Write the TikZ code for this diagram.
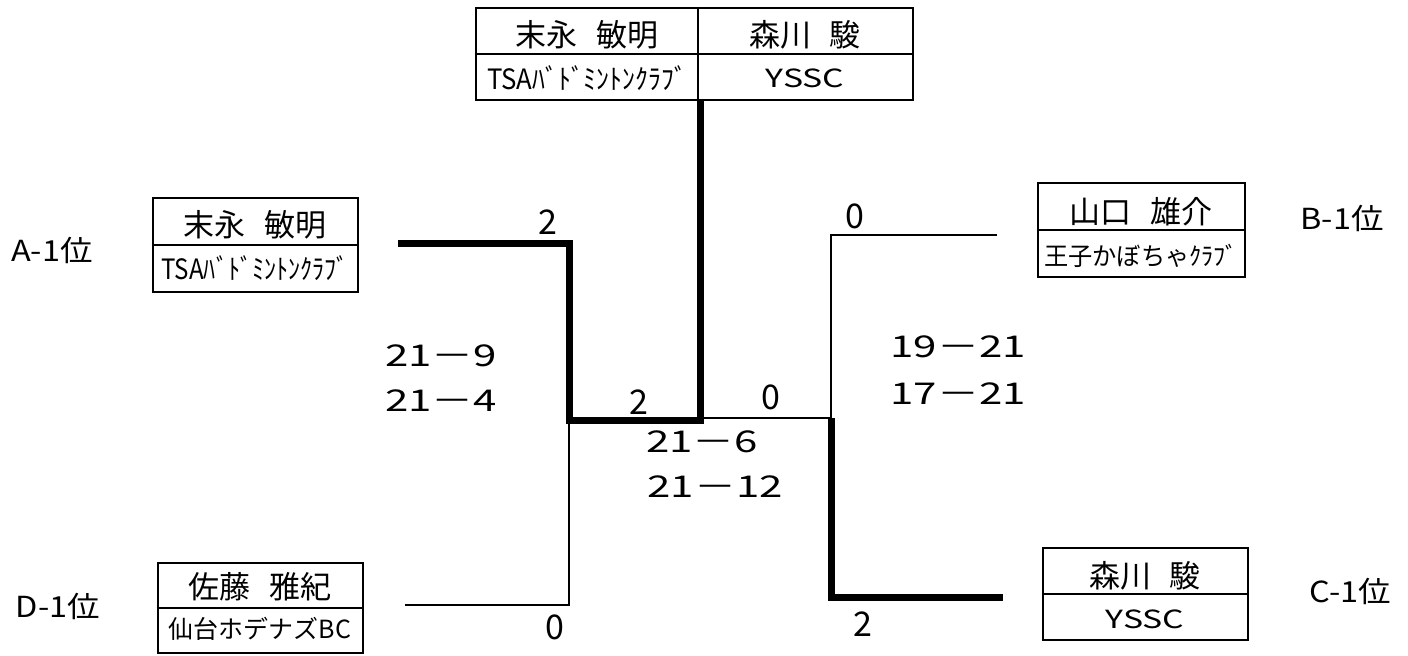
\documentclass[tikz,border=0pt]{standalone}
\usepackage{fontspec}
\setmainfont{Noto Sans CJK JP}
\usetikzlibrary{calc}
\newcommand{\nsp}{\hspace{0.6em}}
\begin{document}
\begin{tikzpicture}[x=0.5pt,y=-0.5pt,
  pbox/.style={draw, line width=1.4pt, inner sep=0pt, minimum width=102.5pt},
  divline/.style={line width=0.6pt},
  win/.style={line width=3.5pt, line join=miter},
  lose/.style={line width=1.3pt, line join=miter},
  nm/.style={font=\fontsize{15.5}{17}\selectfont, inner sep=0pt},
  club/.style={font=\fontsize{12.5}{14}\selectfont, inner sep=0pt},
  tsa/.style={font=\fontsize{14}{16}\selectfont, inner sep=0pt},
  sc/.style={font=\fontsize{15}{18}\selectfont, inner sep=0pt},
  rs/.style={font=\fontsize{17}{19}\selectfont, inner sep=0pt},
  rk/.style={font=\fontsize{14.5}{16}\selectfont, inner sep=0pt}]
\useasboundingbox (0,0) rectangle (1408,655);
\fill[white] (0,0) rectangle (1408,655);

% boxes
\node[pbox, minimum width=218.5pt, minimum height=46pt] (T) at (694.5,54) {};
\node[pbox, minimum height=47pt] (A) at (255.5,245) {};
\node[pbox, minimum height=45pt] (D) at (260.5,608) {};
\node[pbox, minimum width=103.5pt, minimum height=47pt] (B) at (1141.5,230) {};
\node[pbox, minimum height=46pt] (C) at (1145.5,594) {};

% dividers
\coordinate (Tdiv) at (698,54);
\draw[divline] (T.west) -- (T.east);
\draw[line width=1.4pt] (Tdiv |- T.north) -- (Tdiv |- T.south);
\draw[divline] (A.west) -- (A.east);
\draw[divline] (D.west) -- (D.east);
\draw[divline] (B.west) -- (B.east);
\draw[divline] (C.west) -- (C.east);

% texts in boxes
\node[nm] (Tn1) at (587,35) {末永\nsp 敏明};
\node[tsa] (Tc1) at (587,78) {\scalebox{0.92}[1]{TSAﾊﾞﾄﾞﾐﾝﾄﾝｸﾗﾌﾞ}};
\node[nm] (Tn2) at (805,35) {森川\nsp 駿};
\node[club] (Tc2) at (805,78) {\scalebox{1.35}[1]{YSSC}};

\node[nm] (An) at (255,225) {末永\nsp 敏明};
\node[tsa] (Ac) at (255,268) {\scalebox{0.86}[1]{TSAﾊﾞﾄﾞﾐﾝﾄﾝｸﾗﾌﾞ}};
\node[nm] (Dn) at (260,587) {佐藤\nsp 雅紀};
\node[club] (Dc) at (260,629) {仙台ホデナズBC};
\node[nm] (Bn) at (1141,212) {山口\nsp 雄介};
\node[club] (Bc) at (1141,256) {\scalebox{0.97}[1]{王子かぼちゃｸﾗﾌﾞ}};
\node[nm] (Cn) at (1145,576) {森川\nsp 駿};
\node[club] (Cc) at (1145,619) {\scalebox{1.35}[1]{YSSC}};

% rank labels
\node[rk] (Ar) at (52,250) {\scalebox{1.12}[1]{A-1位}};
\node[rk] (Dr) at (58,606) {\scalebox{1.12}[1]{D-1位}};
\node[rk] (Br) at (1342,218) {\scalebox{1.12}[1]{B-1位}};
\node[rk] (Cr) at (1350,591) {\scalebox{1.12}[1]{C-1位}};

% bracket coordinates
\coordinate (a0) at (398,243);
\coordinate (a1) at (569,243);
\coordinate (m1) at (569,420);
\coordinate (d0) at (405,605);
\coordinate (d1) at (569,605);
\coordinate (top) at (700,420);
\coordinate (m2) at (831,418);
\coordinate (b0) at (997,235);
\coordinate (b1) at (831,235);
\coordinate (c0) at (1003,597);
\coordinate (c1) at (831,597);

% losing lines
\draw[lose] (d0) -- (d1) -- (m1);
\draw[lose] (b0) -- (b1) -- (m2);
\draw[lose] (top |- m2) -- (m2);
% winning lines
\draw[win] (a0) -- (a1) -- (m1) -- ($(top)+(1.75pt,0)$);
\draw[win] (Tdiv |- T.south) ++(2,0) coordinate (ts) -- (ts |- top);
\draw[win] (m2) -- (c1) -- (c0);

% round scores
\node[rs] (sA) at (548,222) {2};
\node[rs] (sD) at (555,627) {0};
\node[rs] (sB) at (855,216) {0};
\node[rs] (sC) at (863,624) {2};
\node[rs] (sL) at (639,402) {2};
\node[rs] (sR) at (771,397) {0};

% game scores
\node[sc] (g1) at (441,356) {\scalebox{1.4}[1]{21－9}};
\node[sc] (g2) at (441,401) {\scalebox{1.4}[1]{21－4}};
\node[sc] (g3) at (958,347) {\scalebox{1.4}[1]{19－21}};
\node[sc] (g4) at (958,394) {\scalebox{1.4}[1]{17－21}};
\node[sc] (g5) at (702,442) {\scalebox{1.4}[1]{21－6}};
\node[sc] (g6) at (715,487) {\scalebox{1.4}[1]{21－12}};
\end{tikzpicture}
\end{document}
